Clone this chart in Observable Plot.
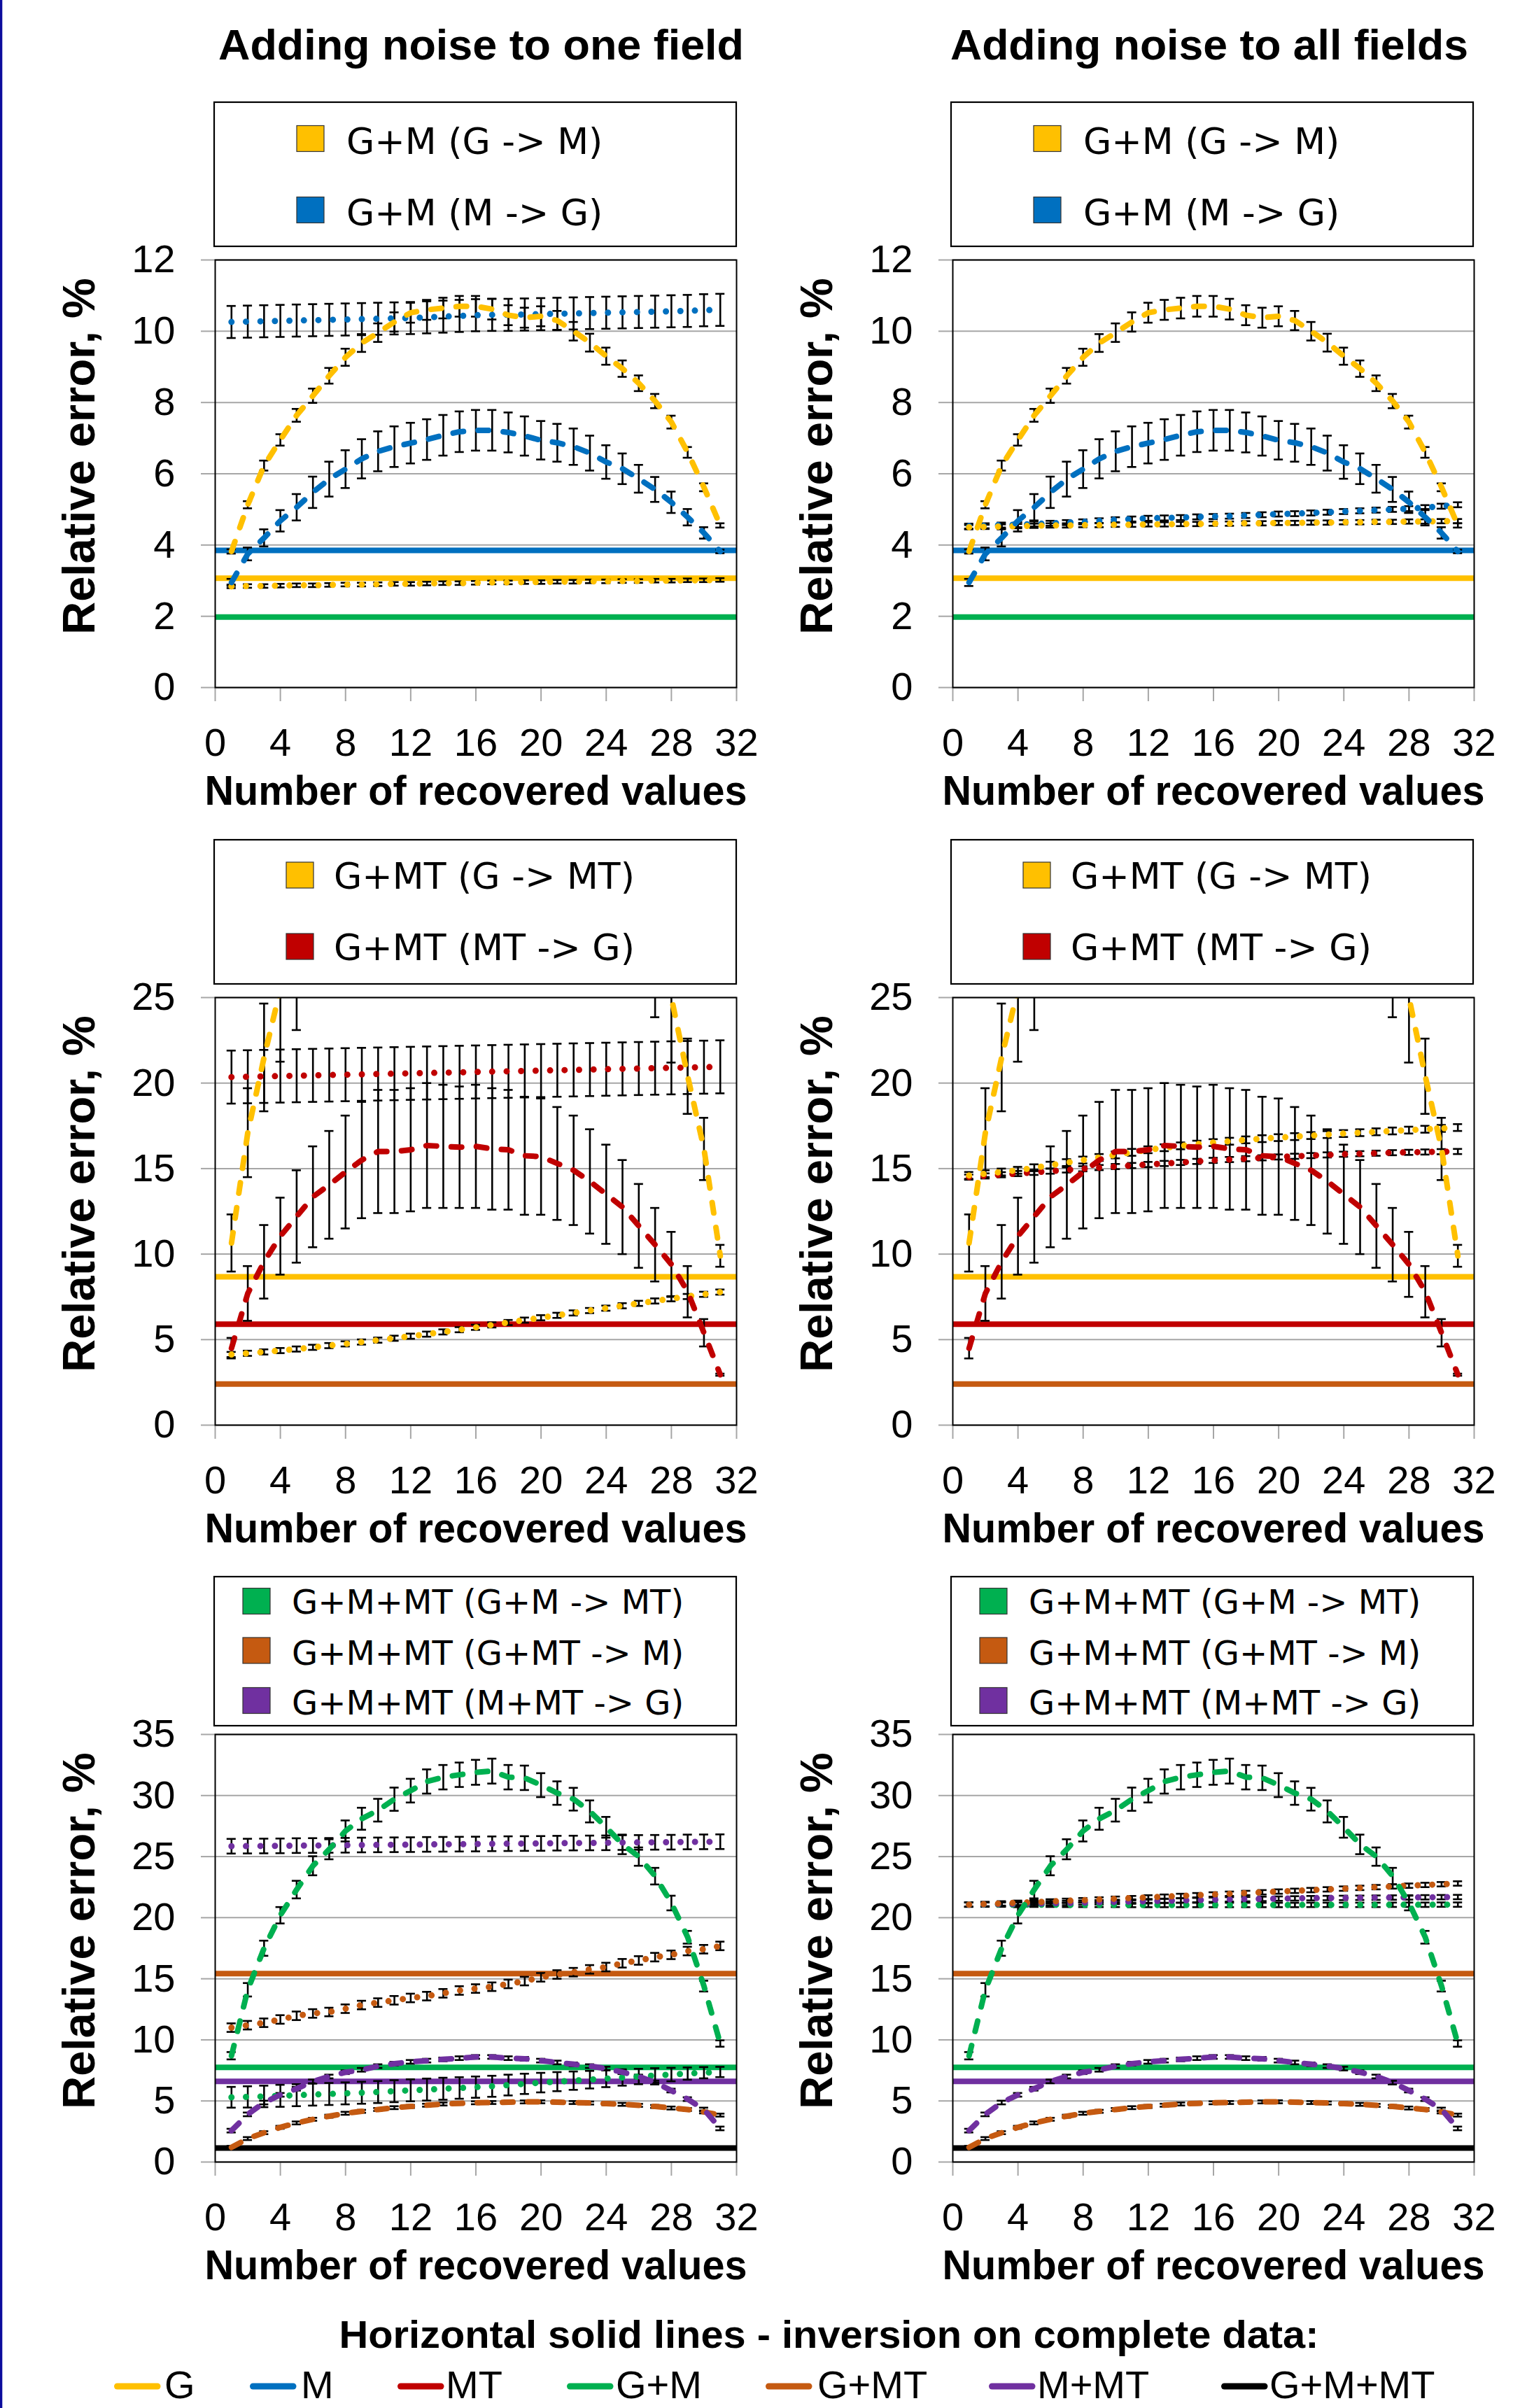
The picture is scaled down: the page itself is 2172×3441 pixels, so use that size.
<!DOCTYPE html>
<html><head><meta charset="utf-8">
<script src="https://cdn.jsdelivr.net/npm/d3@7"></script>
<script src="https://cdn.jsdelivr.net/npm/@observablehq/plot@0.6"></script>
<style>
html,body{margin:0;padding:0;background:#fff;}
#root{position:relative;width:2172px;height:3441px;overflow:hidden;background:#fff;}
#root > svg{position:absolute;}
</style></head><body><div id="root"></div>
<script>
// ---------------- DATA ----------------
const recovered = [1,2,3,4,5,6,7,8,9,10,11,12,13,14,15,16,17,18,19,20,21,22,23,24,25,26,27,28,29,30,31];
const xTicks = [0,4,8,12,16,20,24,28,32];
const yTicksGM = [0,2,4,6,8,10,12];
const yTicksGMT = [0,5,10,15,20,25];
const yTicksGMMT = [0,5,10,15,20,25,30,35];
const columnTitles = ["Adding noise to one field", "Adding noise to all fields"];
const xLabel = "Number of recovered values";
const yLabel = "Relative error, %";

// Row 1: G+M
const gmG2M_dashed = [3.82,5.13,6.23,6.95,7.64,8.19,8.75,9.27,9.67,9.96,10.26,10.52,10.6,10.65,10.7,10.7,10.62,10.45,10.38,10.42,10.3,10.0,9.68,9.3,8.95,8.54,8.04,7.45,6.6,5.62,4.55];
const gmG2M_dashed_err = [0.06,0.1,0.14,0.16,0.18,0.2,0.22,0.24,0.25,0.26,0.27,0.28,0.28,0.29,0.29,0.29,0.29,0.28,0.28,0.28,0.27,0.26,0.25,0.24,0.23,0.22,0.2,0.18,0.15,0.11,0.06];
const gmM2G_dashed = [2.95,3.75,4.2,4.68,5.06,5.48,5.85,6.13,6.42,6.63,6.76,6.86,6.96,7.08,7.18,7.22,7.22,7.16,7.06,6.94,6.87,6.76,6.58,6.33,6.14,5.86,5.56,5.2,4.78,4.34,3.82];
const gmM2G_dashed_err = [0.1,0.18,0.24,0.3,0.37,0.44,0.49,0.53,0.55,0.56,0.57,0.57,0.57,0.57,0.57,0.57,0.57,0.56,0.55,0.54,0.53,0.51,0.49,0.47,0.43,0.39,0.35,0.3,0.23,0.16,0.05];
const gmG2M_dotted_one = [2.84,2.85,2.85,2.86,2.87,2.87,2.88,2.89,2.89,2.9,2.91,2.91,2.92,2.93,2.93,2.94,2.95,2.95,2.96,2.96,2.97,2.97,2.98,2.98,2.99,2.99,3.0,3.0,3.01,3.01,3.02];
const gmG2M_dotted_one_err = 0.05;
const gmM2G_dotted_one = [10.26,10.27,10.28,10.29,10.3,10.31,10.32,10.33,10.34,10.35,10.36,10.37,10.39,10.41,10.43,10.45,10.46,10.46,10.47,10.48,10.49,10.5,10.51,10.52,10.53,10.54,10.55,10.56,10.57,10.59,10.6];
const gmM2G_dotted_one_err = 0.45;
const gmG2M_dotted_all = [4.5,4.51,4.52,4.53,4.54,4.55,4.55,4.56,4.56,4.57,4.57,4.58,4.58,4.59,4.59,4.6,4.6,4.61,4.61,4.62,4.62,4.63,4.63,4.64,4.64,4.65,4.65,4.66,4.66,4.67,4.67];
const gmG2M_dotted_all_err = 0.06;
const gmM2G_dotted_all = [4.53,4.54,4.56,4.57,4.59,4.61,4.63,4.65,4.68,4.71,4.73,4.75,4.76,4.77,4.79,4.8,4.81,4.83,4.85,4.87,4.88,4.9,4.92,4.94,4.96,4.98,5.0,5.02,5.05,5.09,5.13];
const gmM2G_dotted_all_err = 0.07;
const completeGM_keys = ["M","G","G+M"];
const completeGM_vals = [3.85,3.07,1.98];

// Row 2: G+MT
const gmtG2MT_dashed = [10.65,17.1,21.5,25.5,27.1,29.5,31.5,33.4,35.0,36.4,37.5,38.4,39.0,39.5,39.8,40.0,39.8,39.4,38.9,38.2,37.3,36.1,34.6,33.0,31.4,29.8,27.85,25.0,20.4,16.15,9.9];
const gmtG2MT_dashed_err = [1.67,2.6,3.15,4.25,4.0,4.0,4.0,4.0,4.0,4.0,4.0,4.0,4.0,4.0,4.0,4.0,4.0,4.0,4.0,4.0,4.0,4.0,4.0,4.0,4.0,4.0,4.0,3.8,2.2,1.82,0.64];
const gmtMT2G_dashed = [4.5,7.7,9.55,11.05,12.2,13.35,14.05,14.8,15.5,16.0,16.0,16.1,16.35,16.3,16.25,16.3,16.15,16.1,15.75,15.7,15.3,14.9,14.25,13.5,12.75,11.65,10.55,9.4,7.8,5.4,2.95];
const gmtMT2G_dashed_err = [0.6,1.6,2.15,2.25,2.7,2.95,3.15,3.3,3.4,3.6,3.6,3.6,3.65,3.6,3.55,3.6,3.55,3.5,3.45,3.4,3.3,3.2,3.05,2.9,2.75,2.45,2.15,1.9,1.5,0.8,0.06];
const gmtG2MT_dotted_one = [4.13,4.2,4.28,4.36,4.45,4.55,4.65,4.75,4.86,4.97,5.08,5.2,5.32,5.45,5.58,5.72,5.86,6.0,6.14,6.28,6.42,6.56,6.7,6.84,6.98,7.12,7.26,7.39,7.52,7.65,7.78];
const gmtG2MT_dotted_one_err = 0.15;
const gmtMT2G_dotted_one = [20.35,20.37,20.39,20.41,20.43,20.45,20.47,20.49,20.51,20.53,20.55,20.57,20.59,20.61,20.63,20.65,20.67,20.69,20.71,20.73,20.75,20.77,20.79,20.81,20.83,20.85,20.87,20.89,20.91,20.93,20.95];
const gmtMT2G_dotted_one_err = 1.55;
const gmtG2MT_dotted_all = [14.6,14.7,14.8,14.9,15.05,15.2,15.35,15.5,15.65,15.8,15.95,16.1,16.22,16.33,16.43,16.52,16.6,16.68,16.75,16.81,16.87,16.93,16.99,17.05,17.1,17.15,17.2,17.25,17.3,17.35,17.4];
const gmtG2MT_dotted_all_err = 0.2;
const gmtMT2G_dotted_all = [14.5,14.57,14.64,14.71,14.78,14.85,14.92,14.99,15.06,15.12,15.18,15.24,15.3,15.36,15.42,15.48,15.53,15.58,15.63,15.68,15.72,15.76,15.8,15.84,15.87,15.9,15.93,15.95,15.97,15.99,16.0];
const gmtMT2G_dotted_all_err = 0.15;
const completeGMT_keys = ["G","MT","G+MT"];
const completeGMT_vals = [8.67,5.9,2.4];

// Row 3: G+M+MT
const gmmtGM2MT_dashed = [8.7,14.1,17.5,20.2,22.3,24.25,25.6,27.1,28.1,28.8,29.7,30.4,31.15,31.5,31.7,31.9,32.0,31.5,31.45,30.85,30.2,29.7,28.7,27.4,26.0,25.0,23.4,21.2,18.4,14.4,9.7];
const gmmtGM2MT_dashed_err = [0.3,0.55,0.62,0.67,0.72,0.78,0.82,0.86,0.9,0.93,0.95,0.97,0.99,1.0,1.0,1.02,1.02,1.0,1.0,0.98,0.96,0.93,0.9,0.85,0.8,0.75,0.68,0.6,0.52,0.44,0.26];
const gmmtGMT2M_dashed = [1.2,1.92,2.4,2.84,3.2,3.5,3.75,3.99,4.15,4.3,4.45,4.55,4.65,4.75,4.8,4.85,4.87,4.9,4.92,4.93,4.9,4.87,4.83,4.78,4.72,4.64,4.55,4.42,4.3,4.1,3.84];
const gmmtGMT2M_dashed_err = 0.12;
const gmmtMMT2G_dashed = [2.57,3.9,4.87,5.5,6.0,6.6,7.0,7.35,7.55,7.85,8.05,8.2,8.3,8.4,8.5,8.6,8.6,8.5,8.45,8.3,8.15,8.0,7.85,7.65,7.35,7.0,6.5,5.85,5.15,4.3,2.75];
const gmmtMMT2G_dashed_err = 0.15;
const gmmtGM2MT_dotted_one = [5.3,5.33,5.37,5.42,5.47,5.52,5.57,5.62,5.67,5.73,5.8,5.87,5.93,6.0,6.06,6.13,6.2,6.3,6.4,6.5,6.58,6.66,6.74,6.83,6.92,7.0,7.08,7.16,7.24,7.31,7.37];
const gmmtGM2MT_dotted_one_err = [0.85,0.87,0.88,0.9,0.9,0.9,0.9,0.9,0.9,0.9,0.9,0.9,0.9,0.9,0.88,0.87,0.86,0.85,0.83,0.8,0.78,0.75,0.72,0.7,0.67,0.63,0.6,0.55,0.5,0.46,0.42];
const gmmtGMT2M_dotted_one = [11.0,11.2,11.4,11.67,11.97,12.16,12.28,12.55,12.85,13.05,13.24,13.43,13.58,13.81,14.04,14.2,14.35,14.58,14.81,15.12,15.35,15.54,15.77,15.96,16.27,16.5,16.77,16.96,17.27,17.42,17.69];
const gmmtGMT2M_dotted_one_err = 0.35;
const gmmtMMT2G_dotted_one = [25.85,25.86,25.87,25.88,25.9,25.91,25.92,25.93,25.95,25.96,25.97,25.98,26.0,26.01,26.02,26.03,26.05,26.06,26.07,26.08,26.1,26.11,26.12,26.13,26.15,26.16,26.17,26.18,26.2,26.21,26.22];
const gmmtMMT2G_dotted_one_err = 0.6;
const gmmtGM2MT_dotted_all = [21.08,21.07,21.07,21.06,21.06,21.06,21.05,21.05,21.05,21.05,21.04,21.04,21.04,21.04,21.04,21.04,21.04,21.04,21.04,21.04,21.04,21.05,21.05,21.05,21.05,21.05,21.06,21.06,21.06,21.07,21.07];
const gmmtGMT2M_dotted_all = [21.07,21.12,21.17,21.22,21.27,21.33,21.38,21.43,21.49,21.55,21.6,21.66,21.72,21.78,21.84,21.9,21.96,22.02,22.08,22.14,22.2,22.26,22.32,22.38,22.44,22.5,22.56,22.62,22.68,22.74,22.8];
const gmmtMMT2G_dotted_all = [21.07,21.09,21.11,21.13,21.15,21.18,21.2,21.23,21.26,21.29,21.32,21.35,21.38,21.41,21.44,21.47,21.5,21.52,21.54,21.56,21.58,21.6,21.61,21.62,21.63,21.64,21.65,21.66,21.67,21.68,21.69];
const gmmtDotted_all_err = 0.18;
const completeGMMT_keys = ["G+MT","G+M","M+MT","G+M+MT"];
const completeGMMT_vals = [15.43,7.75,6.6,1.15];

// Legend texts
const legendGM = ["G+M (G -> M)", "G+M (M -> G)"];
const legendGMT = ["G+MT (G -> MT)", "G+MT (MT -> G)"];
const legendGMMT = ["G+M+MT (G+M -> MT)", "G+M+MT (G+MT -> M)", "G+M+MT (M+MT -> G)"];
const completeTitle = "Horizontal solid lines - inversion on complete data:";
const completeLegend = ["G","M","MT","G+M","G+MT","M+MT","G+M+MT"];

// ---------------- STYLE ----------------
const palette = {"G":"#FFC000","M":"#0070C0","MT":"#C00000","G+M":"#00B050","G+MT":"#C55A11","M+MT":"#7030A0","G+M+MT":"#000000"};
const SANS = "'Liberation Sans', Arial, sans-serif";
const LEGF = "'DejaVu Sans', Verdana, sans-serif";

function rows(vals, err) {
  return recovered.map((x, i) => ({x, y: vals[i], e: Array.isArray(err) ? err[i] : err}));
}

function panel(cfg) {
  const marks = [
    Plot.gridY(cfg.yTicks, {stroke: "#a6a6a6", strokeOpacity: 1, strokeWidth: 2}),
    Plot.axisY(cfg.yTicks, {tickSize: 20, tickPadding: 37, stroke: "#a6a6a6", strokeWidth: 2, fill: "black", fontSize: 56, label: null, tickFormat: d => String(d)}),
    Plot.axisX(xTicks, {tickSize: 20, tickPadding: 38, stroke: "#a6a6a6", strokeWidth: 2, fill: "black", fontSize: 56, label: null, tickFormat: d => String(d)})
  ];
  cfg.completeKeys.forEach((k, i) => {
    marks.push(Plot.ruleY([cfg.completeVals[i]], {stroke: palette[k], strokeWidth: 8}));
  });
  const data = cfg.series.map(s => ({...s, r: rows(s.values, s.err)}));
  data.forEach(s => {
    marks.push(Plot.ruleX(s.r, {x: "x", y1: d => d.y - d.e, y2: d => d.y + d.e, stroke: "black", strokeWidth: 2.6, clip: true}));
    marks.push(Plot.ruleY(s.r, {y: d => d.y - d.e, x1: d => d.x - 0.28, x2: d => d.x + 0.28, stroke: "black", strokeWidth: 2.6, clip: true}));
    marks.push(Plot.ruleY(s.r, {y: d => d.y + d.e, x1: d => d.x - 0.28, x2: d => d.x + 0.28, stroke: "black", strokeWidth: 2.6, clip: true}));
  });
  data.forEach(s => {
    const dashed = s.kind === "dashed";
    marks.push(Plot.line(s.r, {x: "x", y: "y", stroke: palette[s.key], strokeWidth: dashed ? 8 : 9,
      strokeDasharray: dashed ? "15 21" : "0 20.7", strokeLinecap: "round", strokeLinejoin: "round", clip: true}));
  });
  marks.push(Plot.frame({stroke: "black", strokeWidth: 2}));
  marks.push(Plot.text([xLabel], {text: d => d, frameAnchor: "bottom", dy: 148, lineAnchor: "middle", fontSize: 60, fontWeight: "bold", fill: "black"}));
  marks.push(Plot.text([yLabel], {text: d => d, frameAnchor: "left", dx: -193, dy: -25, rotate: -90, lineAnchor: "middle", textAnchor: "middle", fontSize: 65, fontWeight: "bold", fill: "black"}));
  const svg = Plot.plot({
    width: 1120, height: 10 + 611 + 190,
    marginLeft: 307, marginRight: 68, marginTop: 10, marginBottom: 190,
    x: {domain: [0, 32]},
    y: {domain: [0, cfg.yMax]},
    style: {fontFamily: SANS, color: "black", background: "transparent", overflow: "visible"},
    marks
  });
  svg.querySelectorAll("text").forEach(t => {
    if (t.textContent === xLabel) { t.setAttribute("textLength", 775); t.setAttribute("lengthAdjust", "spacingAndGlyphs"); }
  });
  svg.style.position = "absolute";
  svg.style.left = cfg.left + "px";
  svg.style.top = (cfg.top - 10) + "px";
  svg.style.overflow = "visible";
  return svg;
}

// ---------------- LAYOUT ----------------
const root = document.getElementById("root");
const W = 2172, H = 3441;
const ov = d3.select(root).append("svg").attr("width", W).attr("height", H)
  .style("left", "0px").style("top", "0px");
ov.append("rect").attr("x", 0).attr("y", 0).attr("width", 3.3).attr("height", H).attr("fill", "#0c0c9c");

// column titles
[[687.5, 751], [1728, 740]].forEach(([cx, len], i) => {
  ov.append("text").attr("x", cx).attr("y", 85).attr("text-anchor", "middle")
    .attr("font-family", SANS).attr("font-weight", "bold").attr("font-size", 61)
    .attr("textLength", len).attr("lengthAdjust", "spacingAndGlyphs").text(columnTitles[i]);
});

// panel legends
const legendRows = [
  {labels: legendGM, keys: ["G","M"], box: [146, 352], sq: 118, tx: 189, cy: [198, 300], base: [220, 322], fs: 52},
  {labels: legendGMT, keys: ["G","MT"], box: [1200, 1406], sq: 103, tx: 171, cy: [1250.5, 1352.5], base: [1270, 1372], fs: 52},
  {labels: legendGMMT, keys: ["G+M","G+MT","M+MT"], box: [2253, 2466], sq: 41, tx: 111, cy: [2288, 2358.5, 2430], base: [2306, 2379, 2450], fs: 48}
];
[306, 1359].forEach(bx => {
  legendRows.forEach(L => {
    ov.append("rect").attr("x", bx).attr("y", L.box[0]).attr("width", 746).attr("height", L.box[1] - L.box[0])
      .attr("fill", "white").attr("stroke", "black").attr("stroke-width", 2.2);
    L.labels.forEach((lab, i) => {
      ov.append("rect").attr("x", bx + L.sq).attr("y", L.cy[i] - 18.5).attr("width", 39).attr("height", 37)
        .attr("fill", palette[L.keys[i]]).attr("stroke", "#333").attr("stroke-width", 1.2);
      ov.append("text").attr("x", bx + L.tx).attr("y", L.base[i]).attr("font-family", LEGF)
        .attr("font-size", L.fs).attr("fill", "black").text(lab);
    });
  });
});

// panels
const panels = [
  {left: 0, top: 371, yMax: 12, yTicks: yTicksGM, completeKeys: completeGM_keys, completeVals: completeGM_vals, series: [
    {key: "M", kind: "dotted", values: gmM2G_dotted_one, err: gmM2G_dotted_one_err},
    {key: "G", kind: "dotted", values: gmG2M_dotted_one, err: gmG2M_dotted_one_err},
    {key: "M", kind: "dashed", values: gmM2G_dashed, err: gmM2G_dashed_err},
    {key: "G", kind: "dashed", values: gmG2M_dashed, err: gmG2M_dashed_err}]},
  {left: 1054, top: 371, yMax: 12, yTicks: yTicksGM, completeKeys: completeGM_keys, completeVals: completeGM_vals, series: [
    {key: "M", kind: "dotted", values: gmM2G_dotted_all, err: gmM2G_dotted_all_err},
    {key: "G", kind: "dotted", values: gmG2M_dotted_all, err: gmG2M_dotted_all_err},
    {key: "M", kind: "dashed", values: gmM2G_dashed, err: gmM2G_dashed_err},
    {key: "G", kind: "dashed", values: gmG2M_dashed, err: gmG2M_dashed_err}]},
  {left: 0, top: 1424.5, yMax: 25, yTicks: yTicksGMT, completeKeys: completeGMT_keys, completeVals: completeGMT_vals, series: [
    {key: "MT", kind: "dotted", values: gmtMT2G_dotted_one, err: gmtMT2G_dotted_one_err},
    {key: "G", kind: "dotted", values: gmtG2MT_dotted_one, err: gmtG2MT_dotted_one_err},
    {key: "MT", kind: "dashed", values: gmtMT2G_dashed, err: gmtMT2G_dashed_err},
    {key: "G", kind: "dashed", values: gmtG2MT_dashed, err: gmtG2MT_dashed_err}]},
  {left: 1054, top: 1424.5, yMax: 25, yTicks: yTicksGMT, completeKeys: completeGMT_keys, completeVals: completeGMT_vals, series: [
    {key: "MT", kind: "dotted", values: gmtMT2G_dotted_all, err: gmtMT2G_dotted_all_err},
    {key: "G", kind: "dotted", values: gmtG2MT_dotted_all, err: gmtG2MT_dotted_all_err},
    {key: "MT", kind: "dashed", values: gmtMT2G_dashed, err: gmtMT2G_dashed_err},
    {key: "G", kind: "dashed", values: gmtG2MT_dashed, err: gmtG2MT_dashed_err}]},
  {left: 0, top: 2478, yMax: 35, yTicks: yTicksGMMT, completeKeys: completeGMMT_keys, completeVals: completeGMMT_vals, series: [
    {key: "M+MT", kind: "dotted", values: gmmtMMT2G_dotted_one, err: gmmtMMT2G_dotted_one_err},
    {key: "G+MT", kind: "dotted", values: gmmtGMT2M_dotted_one, err: gmmtGMT2M_dotted_one_err},
    {key: "G+M", kind: "dotted", values: gmmtGM2MT_dotted_one, err: gmmtGM2MT_dotted_one_err},
    {key: "G+MT", kind: "dashed", values: gmmtGMT2M_dashed, err: gmmtGMT2M_dashed_err},
    {key: "M+MT", kind: "dashed", values: gmmtMMT2G_dashed, err: gmmtMMT2G_dashed_err},
    {key: "G+M", kind: "dashed", values: gmmtGM2MT_dashed, err: gmmtGM2MT_dashed_err}]},
  {left: 1054, top: 2478, yMax: 35, yTicks: yTicksGMMT, completeKeys: completeGMMT_keys, completeVals: completeGMMT_vals, series: [
    {key: "G+M", kind: "dotted", values: gmmtGM2MT_dotted_all, err: gmmtDotted_all_err},
    {key: "M+MT", kind: "dotted", values: gmmtMMT2G_dotted_all, err: gmmtDotted_all_err},
    {key: "G+MT", kind: "dotted", values: gmmtGMT2M_dotted_all, err: gmmtDotted_all_err},
    {key: "G+MT", kind: "dashed", values: gmmtGMT2M_dashed, err: gmmtGMT2M_dashed_err},
    {key: "M+MT", kind: "dashed", values: gmmtMMT2G_dashed, err: gmmtMMT2G_dashed_err},
    {key: "G+M", kind: "dashed", values: gmmtGM2MT_dashed, err: gmmtGM2MT_dashed_err}]}
];
panels.forEach(p => root.appendChild(panel(p)));

// bottom legend
ov.append("text").attr("x", 1184.5).attr("y", 3355).attr("text-anchor", "middle")
  .attr("font-family", SANS).attr("font-weight", "bold").attr("font-size", 56)
  .attr("textLength", 1400).attr("lengthAdjust", "spacingAndGlyphs").text(completeTitle);
const swatchStart = [163, 357, 568, 810, 1094, 1413, 1745];
const labelStart = [235, 430, 637, 880, 1168, 1482, 1814];
completeLegend.forEach((k, i) => {
  ov.append("line").attr("x1", swatchStart[i] + 4.5).attr("x2", swatchStart[i] + 62).attr("y1", 3410).attr("y2", 3410)
    .attr("stroke", palette[k]).attr("stroke-width", 9).attr("stroke-linecap", "round");
  ov.append("text").attr("x", labelStart[i]).attr("y", 3427).attr("font-family", SANS)
    .attr("font-size", 56).attr("fill", "black").text(k);
});
</script></body></html>
